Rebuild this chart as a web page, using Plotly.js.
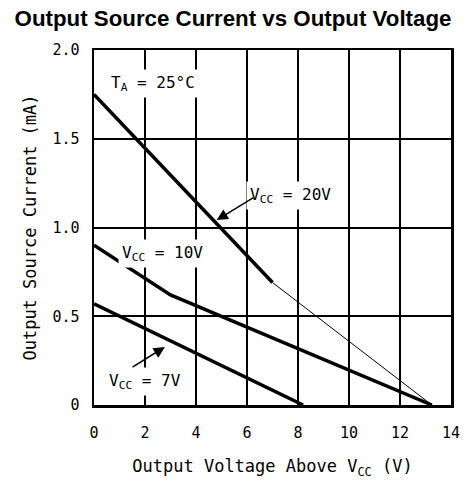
<!DOCTYPE html>
<html>
<head>
<meta charset="utf-8">
<script src="https://cdn.plot.ly/plotly-3.0.1.min.js"></script>
<style>html,body{margin:0;padding:0;background:#fff;}#chart{width:466px;height:483px;}</style>
</head>
<body>
<div id="chart"></div>
<script>
// Data
const xTicks = [0, 2, 4, 6, 8, 10, 12, 14];
const yTicks = [0, 0.5, 1.0, 1.5, 2.0];
const yTickLabels = ["0", "0.5", "1.0", "1.5", "2.0"];

const vcc20X = [0, 7];
const vcc20Y = [1.75, 0.69];
const vcc20TailX = [7, 13.25];
const vcc20TailY = [0.69, 0];

const vcc10X = [0, 3, 13.25];
const vcc10Y = [0.9, 0.62, 0];

const vcc7X = [0, 8.2];
const vcc7Y = [0.57, 0];

const tickFont = {family: "DejaVu Sans Mono", size: 15, color: "#000"};
const axisTitleFont = {family: "DejaVu Sans Mono", size: 17, color: "#000"};
const labelFont = {family: "DejaVu Sans Mono", size: 16, color: "#000"};

const traces = [
  {x: vcc20X, y: vcc20Y, mode: "lines", line: {color: "#000", width: 3.5}, hoverinfo: "skip"},
  {x: vcc20TailX, y: vcc20TailY, mode: "lines", line: {color: "#000", width: 1}, hoverinfo: "skip"},
  {x: vcc10X, y: vcc10Y, mode: "lines", line: {color: "#000", width: 3.5}, hoverinfo: "skip"},
  {x: vcc7X, y: vcc7Y, mode: "lines", line: {color: "#000", width: 3.5}, hoverinfo: "skip"}
];

const layout = {
  width: 466, height: 483,
  margin: {l: 94, r: 15, t: 50, b: 78},
  paper_bgcolor: "#fff", plot_bgcolor: "#fff",
  showlegend: false,
  title: {
    text: "<b>Output Source Current vs Output Voltage</b>",
    font: {family: "Liberation Sans", size: 22.3, color: "#000"},
    x: 0.5, xanchor: "center", y: 0.963, yanchor: "middle"
  },
  xaxis: {
    range: [0, 14], tickvals: xTicks, ticktext: xTicks.map(String),
    showgrid: true, gridcolor: "#000", gridwidth: 2,
    showline: true, linecolor: "#000", linewidth: 2.5, mirror: true,
    zeroline: false, ticks: "", ticklabelstandoff: 12,
    tickfont: tickFont,
    title: {text: "Output Voltage Above V<sub>CC</sub> (V)", font: axisTitleFont, standoff: 20}
  },
  yaxis: {
    range: [0, 2.0], tickvals: yTicks, ticktext: yTickLabels,
    showgrid: true, gridcolor: "#000", gridwidth: 2,
    showline: true, linecolor: "#000", linewidth: 2.5, mirror: true,
    zeroline: false, ticks: "", ticklabelstandoff: 9,
    tickfont: tickFont,
    title: {text: "Output Source Current (mA)", font: axisTitleFont, standoff: 12}
  },
  annotations: [
    {x: 2.31, y: 1.814, xref: "x", yref: "y", text: "T<sub>A</sub> = 25°C", showarrow: false,
     font: labelFont, bgcolor: "#fff", borderpad: 3},
    {x: 7.69, y: 1.18, xref: "x", yref: "y", text: "V<sub>CC</sub> = 20V", showarrow: false,
     font: labelFont, bgcolor: "#fff", borderpad: 3},
    {x: 4.81, y: 1.042, xref: "x", yref: "y", ax: 6.31, ay: 1.173, axref: "x", ayref: "y",
     text: "", showarrow: true, arrowhead: 2, arrowsize: 1.5, arrowwidth: 1.5, arrowcolor: "#000"},
    {x: 2.67, y: 0.856, xref: "x", yref: "y", text: "V<sub>CC</sub> = 10V", showarrow: false,
     font: labelFont, bgcolor: "#fff", borderpad: 3},
    {x: 2.0, y: 0.13, xref: "x", yref: "y", text: "V<sub>CC</sub> = 7V", showarrow: false,
     font: labelFont, bgcolor: "#fff", borderpad: 3},
    {x: 2.78, y: 0.327, xref: "x", yref: "y", ax: 1.45, ay: 0.208, axref: "x", ayref: "y",
     text: "", showarrow: true, arrowhead: 2, arrowsize: 1.5, arrowwidth: 1.5, arrowcolor: "#000"}
  ]
};

Plotly.newPlot("chart", traces, layout, {displayModeBar: false, staticPlot: true});
</script>
</body>
</html>
